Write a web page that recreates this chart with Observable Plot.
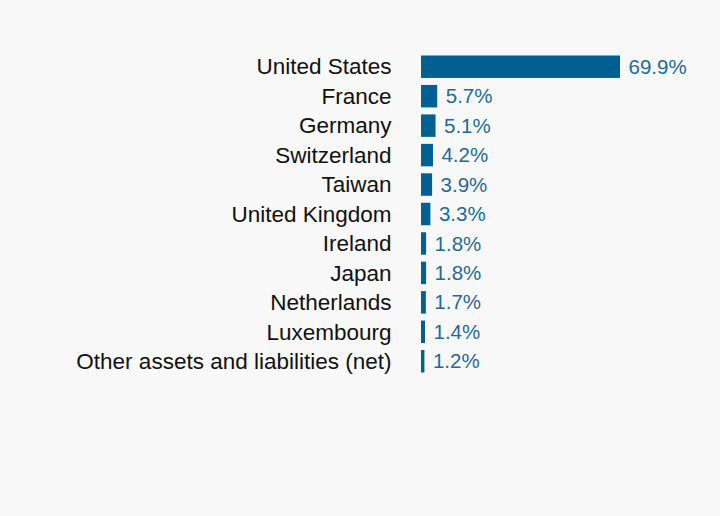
<!DOCTYPE html>
<html>
<head>
<meta charset="utf-8">
<script src="https://cdn.jsdelivr.net/npm/d3@7"></script>
<script src="https://cdn.jsdelivr.net/npm/@observablehq/plot@0.6"></script>
<style>
  html, body { margin: 0; padding: 0; background: #f8f8f8; }
  #chart { width: 720px; height: 516px; }
</style>
</head>
<body>
<div id="chart"></div>
<script>
const countries = ["United States", "France", "Germany", "Switzerland", "Taiwan", "United Kingdom", "Ireland", "Japan", "Netherlands", "Luxembourg", "Other assets and liabilities (net)"];
const weights = [69.9, 5.7, 5.1, 4.2, 3.9, 3.3, 1.8, 1.8, 1.7, 1.4, 1.2];

const data = countries.map((c, i) => ({country: c, value: weights[i]}));

const chart = Plot.plot({
  width: 720,
  height: 516,
  marginLeft: 421,
  marginRight: 100,
  marginTop: 52,
  marginBottom: 140,
  style: {background: "#f8f8f8", fontFamily: "'Liberation Sans', Arial, sans-serif"},
  x: {domain: [0, 69.9], axis: null},
  y: {domain: countries, padding: 0, round: false, axis: null},
  marks: [
    Plot.barX(data, {x: "value", y: "country", fill: "#006091", insetTop: 3.5, insetBottom: 3.5}),
    Plot.text(data, {x: 0, y: "country", text: "country", textAnchor: "end", dx: -30, fontSize: 22.5, fill: "#111"}),
    Plot.text(data, {x: "value", y: "country", text: d => d.value.toFixed(1) + "%", textAnchor: "start", dx: 8, fontSize: 20.5, fill: "#1f6b9b"})
  ]
});
document.getElementById("chart").appendChild(chart);
</script>
</body>
</html>
